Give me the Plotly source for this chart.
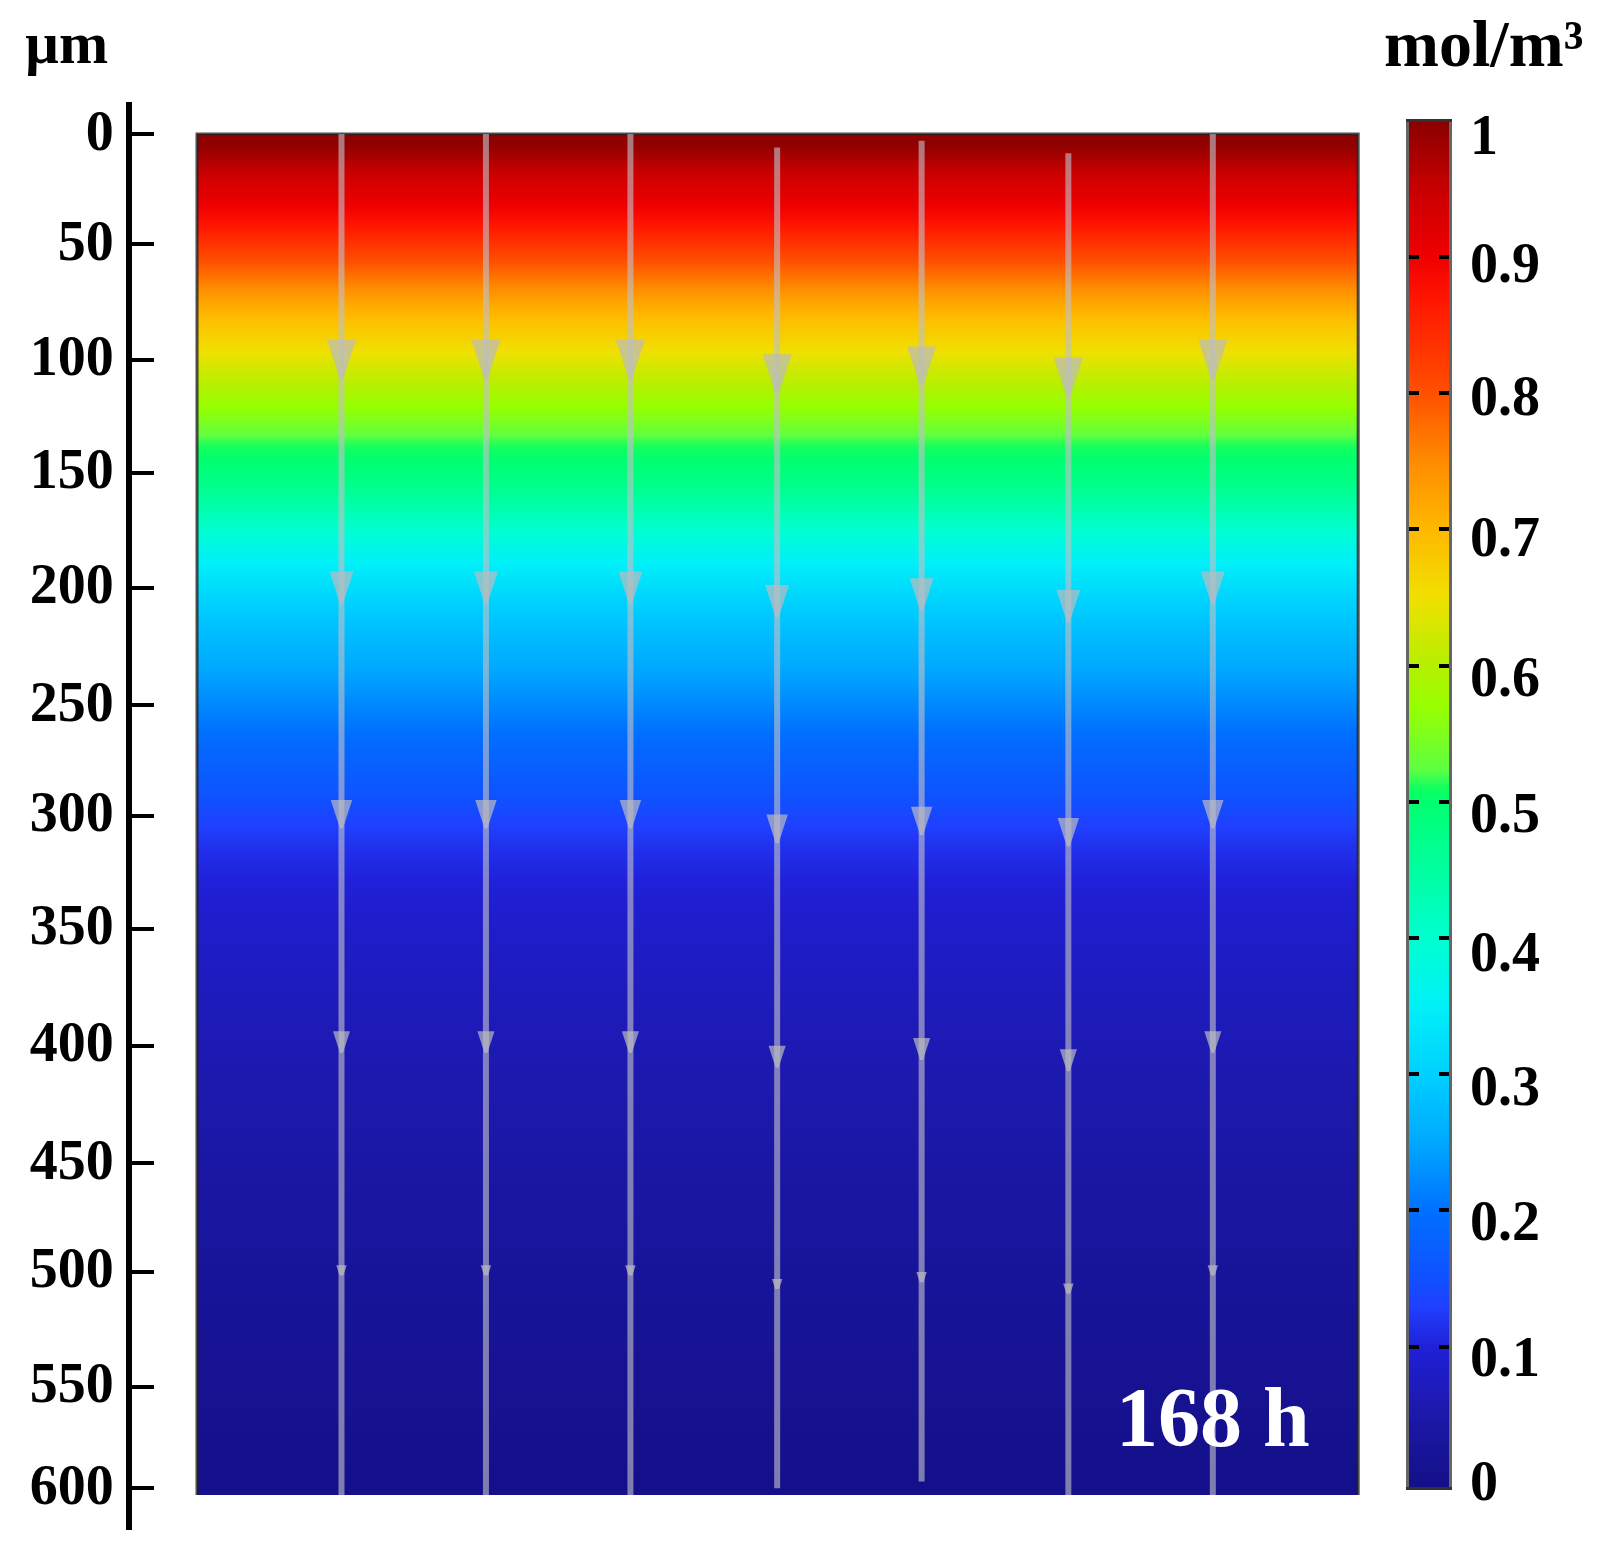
import plotly.graph_objects as go

# ---------- data ----------
depth_ticks = [0, 48.7, 100, 150, 201, 253, 302, 352, 404, 456, 504, 555, 600]
depth_labels = ["0", "50", "100", "150", "200", "250", "300", "350", "400", "450", "500", "550", "600"]

conc = [.995, .955, .922, .888, .848, .805, .762, .718, .682, .652, .618, .585, .553, .517, .497,
        .472, .435, .397, .362, .332, .305, .285, .268, .252, .234, .215, .197, .18, .165, .148,
        .13, .115, .105, .095, .087, .082, .077, .072, .068, .065, .061, .057, .053, .051, .048,
        .044, .04, .036, .032, .028, .025, .022, .019, .016, .013, .011, .009, .006, .004, .001]
depth_first = 5.0
depth_step = 10.05
width_um = 514.4

stream_x = [64, 128, 192, 257, 321, 386, 450]
stream_start = [0, 0, 0, 6, 3, 8.5, 0]
stream_end = [603, 603, 603, 600, 597, 603, 603]
arrow_tips = [
    [108, 208, 307.5, 407, 505.5],
    [108, 208, 307.5, 407, 505.5],
    [108, 208, 307.5, 407, 505.5],
    [114.5, 214, 314, 413.5, 511.5],
    [111, 211, 310.5, 410, 508.5],
    [116, 216, 315.5, 415, 513.5],
    [108, 208, 307.5, 407, 505.5],
]
arrow_sizes = [38, 32, 28, 21, 8]
arrow_edges = [4, 3, 3, 3, 4]

cbar_ticks = [.1, .2, .3, .4, .5, .6, .7, .8, .9]
cbar_label_pos = [0.002, .093, .193, .292, .39, .492, .592, .695, .798, .896, .99]
cbar_labels = ["0", "0.1", "0.2", "0.3", "0.4", "0.5", "0.6", "0.7", "0.8", "0.9", "1"]
cbar_values = [i / 100 for i in range(101)]

colorscale = [
    [0, "#14108a"], [.05, "#1c18a8"], [.1, "#2020d8"], [.13, "#2040ff"], [.15, "#1050ff"],
    [.2, "#0070ff"], [.25, "#00a8ff"], [.3, "#00d0ff"], [.35, "#00f0f8"], [.4, "#00ffd0"],
    [.45, "#00ffa0"], [.5, "#00ff70"], [.51, "#10ff60"], [.525, "#60ff40"], [.57, "#98ff00"],
    [.6, "#b4f000"], [.65, "#f0e000"], [.7, "#ffb800"], [.75, "#ff8c00"], [.8, "#ff5000"],
    [.87, "#ff1400"], [.9, "#f00000"], [.95, "#c80000"], [1, "#8b0000"],
]

# ---------- figure ----------
W, H = 1601, 1560
PAGE_OFFSET = 8
SERIF = "Liberation Serif"
fig = go.Figure()

fig.add_trace(go.Heatmap(
    z=[[v, v] for v in conc], x=[0, width_um / 2, width_um], xaxis="x", yaxis="y",
    y0=depth_first, dy=depth_step, zsmooth="best", coloraxis="coloraxis", hoverinfo="skip",
))

# frame around the map (left, top, right edges)
fig.add_trace(go.Scatter(
    x=[0, 0, width_um, width_um], y=[603, 0, 0, 603], mode="lines",
    line=dict(color="rgba(35,35,35,0.8)", width=3), showlegend=False, hoverinfo="skip",
))

for x, s, e, tips in zip(stream_x, stream_start, stream_end, arrow_tips):
    fig.add_trace(go.Scatter(
        x=[x] * 2, y=[s, e], mode="lines",
        line=dict(color="rgba(192,192,200,0.62)", width=6), showlegend=False, hoverinfo="skip",
    ))
    fig.add_trace(go.Scatter(
        x=[x] * len(tips), y=tips, mode="markers",
        marker=dict(symbol="arrow", angle=180, size=arrow_sizes, color="#bcbcc0",
                    line=dict(color="#bcbcc0", width=arrow_edges)),
        showlegend=False, hoverinfo="skip",
    ))

fig.add_trace(go.Heatmap(
    z=[[v, v] for v in cbar_values], x=[0, 0.5, 1], y=cbar_values, xaxis="x2", yaxis="y2",
    zsmooth="best", coloraxis="coloraxis", hoverinfo="skip",
))
# carries the colour-bar labels, which sit a little off their tick marks in the reference
fig.add_trace(go.Scatter(
    x=[0.5] * len(cbar_label_pos), y=cbar_label_pos, xaxis="x2", yaxis="y3", mode="markers",
    marker=dict(size=1, opacity=0), showlegend=False, hoverinfo="skip",
))

def px_x(p):
    return (p - PAGE_OFFSET) / W

def px_y(p):
    return 1 - (p - PAGE_OFFSET) / H

fig.update_layout(
    width=W, height=H, margin=dict(l=0, r=0, t=0, b=0, autoexpand=False), autosize=False,
    paper_bgcolor="white", plot_bgcolor="rgba(0,0,0,0)", showlegend=False,
    coloraxis=dict(colorscale=colorscale, cmin=0, cmax=1, showscale=False),
    xaxis=dict(domain=[px_x(132), px_x(1360)], range=[-28.8, 515.2], visible=False, fixedrange=True),
    yaxis=dict(
        domain=[px_y(1530), px_y(102)], range=[618.5, -14.2], anchor="x", side="left",
        showline=True, linecolor="black", linewidth=6, ticks="inside", ticklen=22, tickwidth=4,
        tickcolor="black", tickvals=depth_ticks, ticktext=depth_labels, ticklabelstandoff=1, ticklabelshift=4,
        tickfont=dict(family=SERIF, size=56, color="black", weight=700), showgrid=False, zeroline=False,
    ),
    xaxis2=dict(domain=[px_x(1409), px_x(1449)], range=[0, 1], anchor="y2", showticklabels=False,
                ticks="", showgrid=False, zeroline=False, showline=True, linecolor="#333", linewidth=3, mirror=True),
    yaxis2=dict(
        domain=[px_y(1487), px_y(122)], range=[-0.003, 0.999], anchor="x2", side="right",
        showline=True, linecolor="#666", linewidth=3, mirror="ticks", showgrid=False, zeroline=False,
        ticks="inside", ticklen=10, tickwidth=4, tickcolor="black", tickvals=cbar_ticks, showticklabels=False,
    ),
    yaxis3=dict(
        domain=[px_y(1487), px_y(122)], range=[-0.003, 0.999], anchor="x2", side="right", overlaying="y2",
        showline=False, showgrid=False, zeroline=False, ticks="",
        tickvals=cbar_label_pos, ticktext=cbar_labels, ticklabelstandoff=20,
        tickfont=dict(family=SERIF, size=56, color="black", weight=700),
    ),
    annotations=[
        dict(text="µm", xref="paper", yref="paper", x=px_x(23), y=px_y(43), xanchor="left", yanchor="middle",
             showarrow=False, font=dict(family=SERIF, size=59, color="black", weight=700)),
        dict(text="mol/m³", xref="paper", yref="paper", x=px_x(1382), y=px_y(43), xanchor="left", yanchor="middle",
             showarrow=False, font=dict(family=SERIF, size=66, color="black", weight=700)),
        dict(text="168 h", xref="paper", yref="paper", x=px_x(1114), y=px_y(1417), xanchor="left", yanchor="middle",
             showarrow=False, font=dict(family=SERIF, size=84, color="white", weight=700)),
    ],
)

fig.write_html("out.html")
